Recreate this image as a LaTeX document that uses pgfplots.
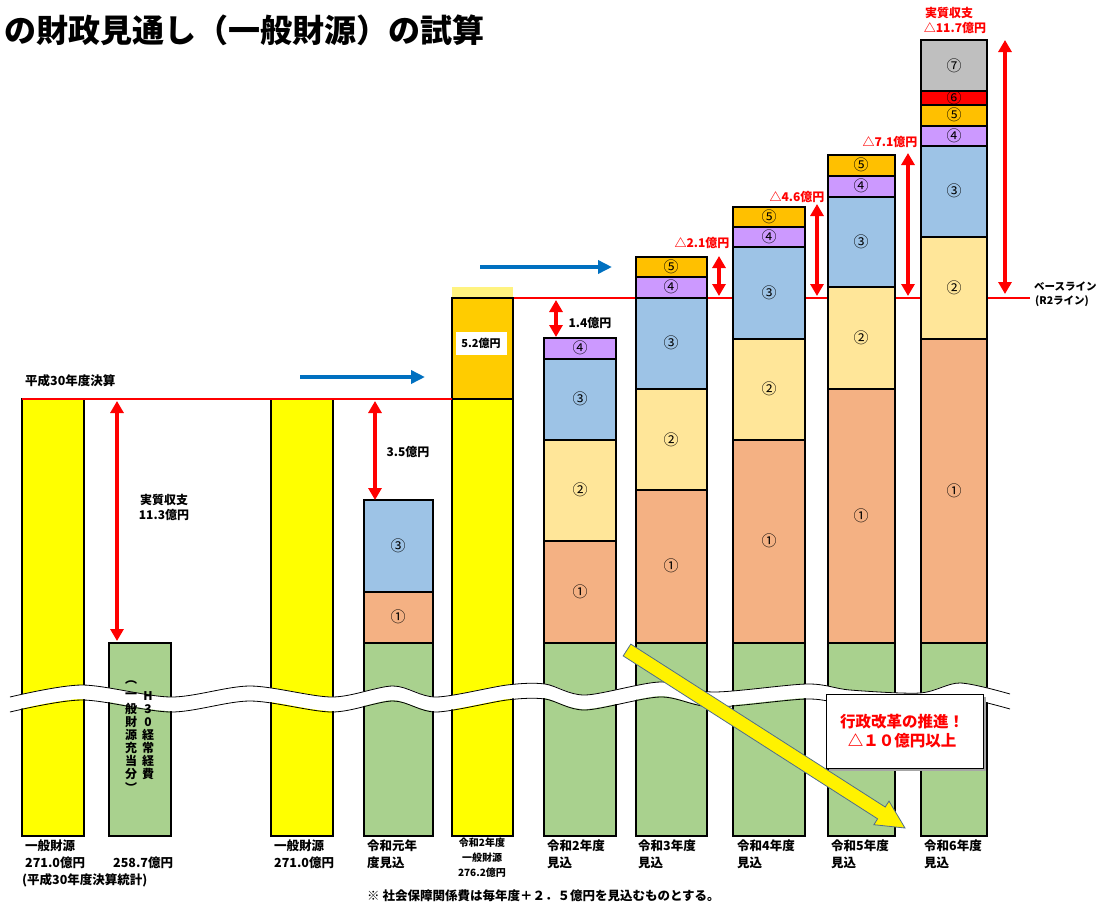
\documentclass[border=0pt]{standalone}
\usepackage{fontspec}
\setmainfont{Noto Sans CJK JP}
\usepackage{pgfplots}
\pgfplotsset{compat=1.18}
\usetikzlibrary{arrows.meta}
\definecolor{cYel}{HTML}{FFFF00}
\definecolor{cGrn}{HTML}{A9D18E}
\definecolor{cA}{HTML}{F4B183}
\definecolor{cB}{HTML}{FFE699}
\definecolor{cC}{HTML}{9DC3E6}
\definecolor{cD}{HTML}{CC99FF}
\definecolor{cE}{HTML}{FFC000}
\definecolor{cF}{HTML}{FF0000}
\definecolor{cG}{HTML}{BFBFBF}
\definecolor{cGold}{HTML}{FFCC00}
\definecolor{cLt}{HTML}{FFF380}
\definecolor{cBlue}{HTML}{0070C0}
\definecolor{cEdge}{HTML}{4F6D8C}
% bar segment: x1 x2 top bottom colour (pixel-like units of the picture)
\newcommand\seg[5]{\addplot[fill=#5,draw=black,line width=1.1pt] coordinates {(#1,#3) (#2,#3) (#2,#4) (#1,#4)} -- cycle;}
\newcommand\cn[3]{\node[font=\fontsize{15}{15}\selectfont,inner sep=0] at (axis cs:#1,#2) {#3};}
\newcommand\lb[3]{\node[anchor=west,font=\fontsize{12.5}{12.5}\selectfont\bfseries,inner sep=0] at (axis cs:#1,#2) {#3};}
\newcommand\lc[3]{\node[font=\fontsize{12}{12}\selectfont\bfseries,inner sep=0] at (axis cs:#1,#2) {#3};}
\newcommand\rl[3]{\node[font=\fontsize{12}{12}\selectfont\bfseries,text=red,inner sep=0] at (axis cs:#1,#2) {#3};}
\newcommand\vt[3]{\node[font=\fontsize{12}{12}\selectfont\bfseries,inner sep=0] at (axis cs:#1,#2) {#3};}
\tikzset{dbl/.style={red,line width=3.5pt,arrows={Triangle[width=13pt,length=12pt]-Triangle[width=13pt,length=12pt]}}}
\begin{document}
\begin{tikzpicture}
\useasboundingbox (0,0) rectangle (1101pt,903pt);
\begin{axis}[width=1101pt,height=903pt,scale only axis,at={(0,0)},anchor=south west,
  xmin=0,xmax=1101,ymin=0,ymax=903,y dir=reverse,hide axis,clip=false]
% base line R2
\addplot[red,line width=2.2pt] coordinates {(513,298) (1030,298)};
% bar 1,2,3
\seg{22}{84}{399}{836}{cYel}
\seg{109}{171}{643}{836}{cGrn}
\seg{271}{333}{399}{836}{cYel}
% R1
\seg{364}{433}{643}{836}{cGrn}
\seg{364}{433}{592}{643}{cA}
\seg{364}{433}{500}{592}{cC}
% R2 general revenue
\addplot[fill=cLt,draw=none] coordinates {(452,287) (513,287) (513,298) (452,298)} -- cycle;
\seg{452}{513}{399}{836}{cYel}
\seg{452}{513}{298}{399}{cGold}
% R2
\seg{544}{616}{643}{836}{cGrn}
\seg{544}{616}{541}{643}{cA}
\seg{544}{616}{440}{541}{cB}
\seg{544}{616}{359}{440}{cC}
\seg{544}{616}{338}{359}{cD}
% R3
\seg{636}{707}{643}{836}{cGrn}
\seg{636}{707}{490}{643}{cA}
\seg{636}{707}{389}{490}{cB}
\seg{636}{707}{298}{389}{cC}
\seg{636}{707}{277}{298}{cD}
\seg{636}{707}{257}{277}{cE}
% R4
\seg{733}{805}{643}{836}{cGrn}
\seg{733}{805}{440}{643}{cA}
\seg{733}{805}{339}{440}{cB}
\seg{733}{805}{247}{339}{cC}
\seg{733}{805}{227}{247}{cD}
\seg{733}{805}{207}{227}{cE}
% R5
\seg{828}{895}{643}{836}{cGrn}
\seg{828}{895}{389}{643}{cA}
\seg{828}{895}{287}{389}{cB}
\seg{828}{895}{197}{287}{cC}
\seg{828}{895}{176}{197}{cD}
\seg{828}{895}{155}{176}{cE}
% R6
\seg{921}{987}{643}{836}{cGrn}
\seg{921}{987}{339}{643}{cA}
\seg{921}{987}{237}{339}{cB}
\seg{921}{987}{146}{237}{cC}
\seg{921}{987}{126}{146}{cD}
\seg{921}{987}{105}{126}{cE}
\seg{921}{987}{91}{105}{cF}
\seg{921}{987}{40}{91}{cG}
% circled numbers
\cn{398}{617}{①}\cn{398}{546}{③}
\cn{580}{592}{①}\cn{580}{490}{②}\cn{580}{399}{③}\cn{580}{348}{④}
\cn{671}{566}{①}\cn{671}{440}{②}\cn{671}{343}{③}\cn{671}{287}{④}\cn{671}{267}{⑤}
\cn{769}{541}{①}\cn{769}{389}{②}\cn{769}{293}{③}\cn{769}{237}{④}\cn{769}{217}{⑤}
\cn{861}{516}{①}\cn{861}{338}{②}\cn{861}{242}{③}\cn{861}{186}{④}\cn{861}{165}{⑤}
\cn{954}{491}{①}\cn{954}{288}{②}\cn{954}{191}{③}\cn{954}{136}{④}\cn{954}{115}{⑤}\cn{954}{98}{⑥}\cn{954}{66}{⑦}
% break band
\addplot[white,line width=14pt,smooth] coordinates {(10,704) (82,692) (171,704) (250,693) (332,704) (393,693) (436,704) (507,692) (545,691) (585,702) (660,689) (713,699) (807,691) (850,697) (920,700) (960,690) (1010,701)};
\addplot[black,line width=0.8pt,smooth] coordinates {(10,697) (82,685) (171,697) (250,686) (332,697) (393,686) (436,697) (507,685) (545,684) (585,695) (660,682) (713,692) (807,684) (850,690) (920,693) (960,683) (1010,694)};
\addplot[black,line width=0.8pt,smooth] coordinates {(10,712) (82,700) (171,712) (250,701) (332,712) (393,701) (436,712) (507,700) (545,699) (585,710) (660,697) (713,707) (807,699) (850,705) (920,708) (960,698) (1010,709)};
% H30 line
\addplot[red,line width=2.5pt] coordinates {(22,399) (452,399)};
% red double arrows
\addplot[dbl] coordinates {(117,401) (117,641)};
\addplot[dbl] coordinates {(375,401) (375,500)};
\addplot[dbl] coordinates {(556,300) (556,337)};
\addplot[dbl] coordinates {(719,256) (719,296)};
\addplot[dbl] coordinates {(817,204) (817,296)};
\addplot[dbl] coordinates {(908,153) (908,296)};
\addplot[dbl] coordinates {(1005,40) (1005,294)};
% blue arrows
\addplot[cBlue,line width=4pt,-{Triangle[width=13pt,length=14pt]}] coordinates {(300,377) (425,377)};
\addplot[cBlue,line width=4pt,-{Triangle[width=13pt,length=14pt]}] coordinates {(480,267) (612,267)};
% 5.2 box
\addplot[fill=white,draw=none] coordinates {(456,332) (507,332) (507,355) (456,355)} -- cycle;
\node[font=\fontsize{11}{11}\selectfont\bfseries,inner sep=0] at (axis cs:481,343) {5.2億円};
% labels
\node[anchor=west,font=\fontsize{32}{32}\selectfont\bfseries,inner sep=0] at (axis cs:4,30) {の財政見通し（一般財源）の試算};
\lb{25}{381}{平成30年度決算}
\lc{164}{500}{実質収支}\lc{164}{515}{11.3億円}
\lc{408}{452}{3.5億円}
\lc{590}{323}{1.4億円}
\rl{702}{243}{△2.1億円}
\rl{797}{197}{△4.6億円}
\rl{890}{142}{△7.1億円}
\rl{949}{13}{実質収支}\rl{955}{28}{△11.7億円}
\node[anchor=west,font=\fontsize{10.5}{10.5}\selectfont\bfseries,inner sep=0] at (axis cs:1034,287) {ベースライン};
\node[anchor=west,font=\fontsize{10.5}{10.5}\selectfont\bfseries,inner sep=0] at (axis cs:1035,301) {(R2ライン)};
% vertical text
\vt{131}{683}{︵}
\vt{131}{696}{一}\vt{131}{709}{般}\vt{131}{722}{財}\vt{131}{735}{源}\vt{131}{748}{充}\vt{131}{761}{当}\vt{131}{774}{分}
\vt{131}{787}{︶}
\vt{148}{696}{H}\vt{148}{709}{3}\vt{148}{722}{0}\vt{148}{735}{経}\vt{148}{748}{常}\vt{148}{761}{経}\vt{148}{774}{費}
% bottom labels
\lb{25}{846}{一般財源}\lb{25}{863}{271.0億円}\lb{22}{880}{(平成30年度決算統計)}
\lb{113}{863}{258.7億円}
\lb{274}{846}{一般財源}\lb{274}{863}{271.0億円}
\lb{367}{846}{令和元年}\lb{367}{863}{度見込}
\node[font=\fontsize{10}{10}\selectfont\bfseries,inner sep=0] at (axis cs:482,843) {令和2年度};
\node[font=\fontsize{10}{10}\selectfont\bfseries,inner sep=0] at (axis cs:482,858) {一般財源};
\node[font=\fontsize{10}{10}\selectfont\bfseries,inner sep=0] at (axis cs:482,873) {276.2億円};
\lb{547}{846}{令和2年度}\lb{547}{863}{見込}
\lb{638}{846}{令和3年度}\lb{638}{863}{見込}
\lb{737}{846}{令和4年度}\lb{737}{863}{見込}
\lb{831}{846}{令和5年度}\lb{831}{863}{見込}
\lb{924}{846}{令和6年度}\lb{924}{863}{見込}
\node[anchor=west,font=\fontsize{12.5}{12.5}\selectfont\bfseries,inner sep=0] at (axis cs:367,896) {※ 社会保障関係費は毎年度＋２．５億円を見込むものとする。};
% big yellow arrow
\addplot[fill=yellow,draw=cEdge,line width=0.8pt] coordinates {(623.2,655.9) (877.6,818.8) (873.9,824.7) (905,828) (889.0,801.1) (885.2,807.0) (630.8,644.1)} -- cycle;
% callout
\addplot[fill=black!35,draw=none] coordinates {(829,697) (986,697) (986,771) (829,771)} -- cycle;
\addplot[fill=white,draw=black,line width=0.9pt] coordinates {(826,694) (983,694) (983,768) (826,768)} -- cycle;
\node[font=\fontsize{15.5}{15.5}\selectfont\bfseries,text=red,inner sep=0] at (axis cs:902,722) {行政改革の推進！};
\node[font=\fontsize{15.5}{15.5}\selectfont\bfseries,text=red,inner sep=0] at (axis cs:902,741) {△１０億円以上};
\end{axis}
\end{tikzpicture}
\end{document}
